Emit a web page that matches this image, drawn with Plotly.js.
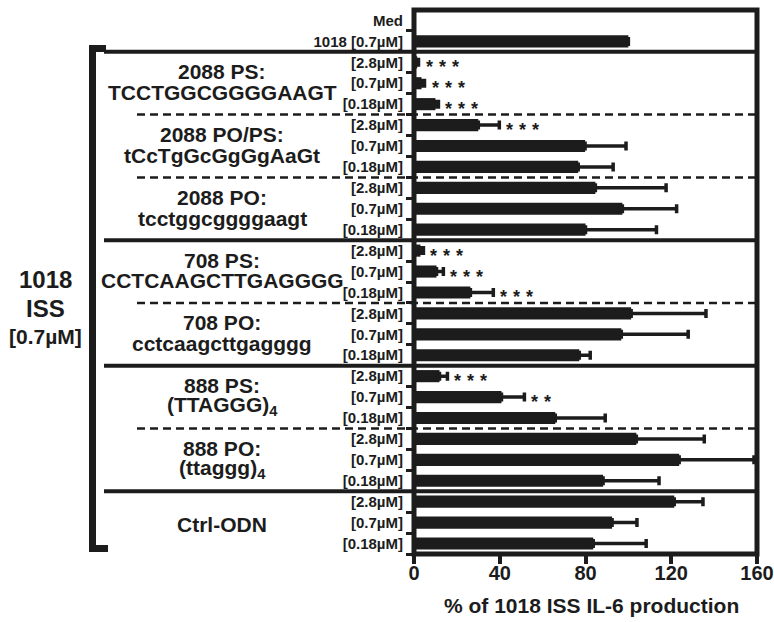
<!DOCTYPE html>
<html><head><meta charset="utf-8">
<script src="https://cdn.plot.ly/plotly-3.0.1.min.js"></script>
<style>html,body{margin:0;padding:0;background:#fff}</style>
</head><body><div id="chart" style="width:774px;height:622px"></div>
<script>
// ---------------- data ----------------
const rowLabels = ['Med', '1018 [0.7µM]',
  '[2.8µM]', '[0.7µM]', '[0.18µM]',
  '[2.8µM]', '[0.7µM]', '[0.18µM]',
  '[2.8µM]', '[0.7µM]', '[0.18µM]',
  '[2.8µM]', '[0.7µM]', '[0.18µM]',
  '[2.8µM]', '[0.7µM]', '[0.18µM]',
  '[2.8µM]', '[0.7µM]', '[0.18µM]',
  '[2.8µM]', '[0.7µM]', '[0.18µM]',
  '[2.8µM]', '[0.7µM]', '[0.18µM]'];
const values = [0, 100,
  1.5, 3.5, 10,       // 2088 PS
  30, 79.8, 76.6,     // 2088 PO/PS
  84.6, 97.2, 80,     // 2088 PO
  3, 10.5, 26.3,      // 708 PS
  101.3, 96.7, 77.1,  // 708 PO
  11.9, 40.8, 65.9,   // 888 PS
  103.7, 123.7, 88.2, // 888 PO
  121.4, 92.4, 83.6]; // Ctrl-ODN
const errors = [0, 0,
  0.6, 1.4, 1.4,
  9.8, 19.1, 16.3,
  33, 25.3, 33.1,
  1.4, 3.2, 10.7,
  34.9, 31.2, 5.1,
  3.7, 10.7, 23.3,
  31.7, 34.9, 26.1,
  13.4, 11.6, 24.7];
const stars = ['', '',
  '***', '***', '***',
  '***', '', '',
  '', '', '',
  '***', '***', '***',
  '', '', '',
  '***', '**', '',
  '', '', '',
  '', '', ''];
const groupNames = ['2088 PS:', '2088 PO/PS:', '2088 PO:', '708 PS:', '708 PO:', '888 PS:', '888 PO:', 'Ctrl-ODN'];
const groupSeqs = ['TCCTGGCGGGGAAGT', 'tCcTgGcGgGgAaGt', 'tcctggcggggaagt', 'CCTCAAGCTTGAGGGG',
  'cctcaagcttgagggg', '(TTAGGG)<sub>4</sub>', '(ttaggg)<sub>4</sub>', ''];
const xTicks = [0, 40, 80, 120, 160];
const xTitle = '% of 1018 ISS IL-6 production';
const sideLabels = ['1018', 'ISS', '[0.7µM]'];
const solidAfter = [1, 10, 16, 22];   // row index after which a solid separator is drawn
const dashedAfter = [4, 7, 13, 19];   // row index after which a dashed separator is drawn

// ---------------- layout helpers ----------------
const W = 774, H = 622, ML = 414, MR = 17, MT = 10, MB = 68;
const PW = W - ML - MR, PH = H - MT - MB;
const px = p => (p - ML) / PW;          // pixel x -> paper x
const py = p => (H - MB - p) / PH;      // pixel y -> paper y
const INK = '#1c1c1c';
const FAM = 'Liberation Sans, Arial, Helvetica, sans-serif';
const rows = rowLabels.map((_, i) => i);

const trace = {
  type: 'bar', orientation: 'h',
  x: values, y: rows, width: 0.58,
  marker: {color: INK, line: {width: 0}},
  error_x: {type: 'data', symmetric: false, array: errors, arrayminus: errors.map(() => 0),
            color: INK, thickness: 3.5, width: 4.5, visible: true},
  hoverinfo: 'none'
};

const annotations = [];
stars.forEach((s, i) => {
  if (!s) return;
  annotations.push({x: values[i] + errors[i], y: i, xref: 'x', yref: 'y', text: s.split('').join('\u2004'),
    showarrow: false, xanchor: 'left', yanchor: 'middle', xshift: 5, yshift: -5,
    font: {family: FAM, size: 18, weight: 'bold', color: INK}});
});
groupNames.forEach((g, k) => {
  const c = 2 + 3 * k + 1;
  const hasSeq = groupSeqs[k] !== '';
  annotations.push({x: px(222), y: hasSeq ? c - 0.55 : c + 0.1, xref: 'paper', yref: 'y', text: g,
    showarrow: false, xanchor: 'center', yanchor: 'middle',
    font: {family: FAM, size: 21, weight: 'bold', color: INK}});
  if (hasSeq) annotations.push({x: px(222), y: c + 0.45, xref: 'paper', yref: 'y', text: groupSeqs[k],
    showarrow: false, xanchor: 'center', yanchor: 'middle',
    font: {family: FAM, size: 21, weight: 'bold', color: INK}});
});
const sideY = [279, 308, 336], sideSize = [24, 24, 21];
sideLabels.forEach((t, k) => annotations.push({x: px(45), y: py(sideY[k]), xref: 'paper', yref: 'paper',
  text: t, showarrow: false, xanchor: 'center', yanchor: 'middle',
  font: {family: FAM, size: sideSize[k], weight: 'bold', color: INK}}));
// x-axis title
annotations.push({x: px(591), y: py(605), xref: 'paper', yref: 'paper', text: xTitle,
  showarrow: false, xanchor: 'center', yanchor: 'middle',
  font: {family: FAM, size: 21, weight: 'bold', color: INK}});

const shapes = [];
solidAfter.forEach(r => shapes.push({type: 'line', xref: 'paper', yref: 'y', x0: px(104), x1: 1,
  y0: r + 0.5, y1: r + 0.5, line: {color: INK, width: 4}, layer: 'above'}));
dashedAfter.forEach(r => shapes.push({type: 'line', xref: 'paper', yref: 'y', x0: px(137), x1: 1,
  y0: r + 0.5, y1: r + 0.5, line: {color: INK, width: 2.5, dash: '8px,5px'}, layer: 'above'}));
// bracket
shapes.push({type: 'path', xref: 'paper', yref: 'paper', layer: 'above',
  path: `M${px(106)},${py(48.5)} L${px(92.5)},${py(48.5)} L${px(92.5)},${py(548.5)} L${px(108)},${py(548.5)}`,
  line: {color: INK, width: 7}});
// frame
shapes.push({type: 'rect', xref: 'paper', yref: 'paper', x0: 0, x1: 1, y0: 0, y1: 1,
  line: {color: INK, width: 5}, layer: 'above'});

const layout = {
  width: W, height: H, margin: {l: ML, r: MR, t: MT, b: MB},
  paper_bgcolor: '#fff', plot_bgcolor: '#fff', showlegend: false,
  font: {family: FAM, color: INK},
  xaxis: {range: [0, 160], tickmode: 'array', tickvals: xTicks, ticktext: xTicks.map(String),
    ticks: 'outside', ticklen: 9, tickwidth: 4, tickcolor: INK, ticklabelstandoff: -8,
    showline: false, showgrid: false, zeroline: false,
    tickfont: {family: FAM, size: 20, weight: 'bold', color: INK}},
  yaxis: {range: [rows.length - 0.5, -0.5], tickmode: 'array', tickvals: rows, ticktext: rowLabels,
    ticks: '', showline: false, showgrid: false, zeroline: false, ticklabelstandoff: 10,
    tickfont: {family: FAM, size: 15, weight: 'bold', color: INK},
    minor: {tickmode: 'array', tickvals: rows.map(r => r + 0.5), ticks: 'outside', ticklen: 7,
      tickwidth: 3, tickcolor: INK, showgrid: false}},
  annotations: annotations, shapes: shapes, bargap: 0.4
};

Plotly.newPlot('chart', [trace], layout, {displayModeBar: false, staticPlot: true});
</script></body></html>
